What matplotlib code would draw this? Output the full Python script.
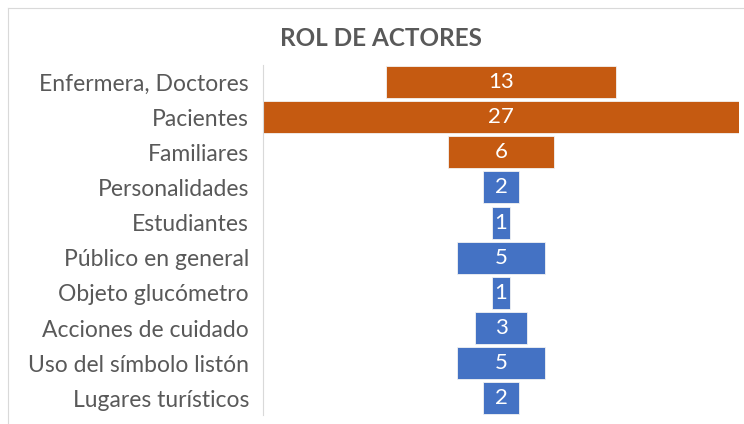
import matplotlib
matplotlib.use("Agg")
import matplotlib.pyplot as plt
from matplotlib.lines import Line2D

categories = ["Enfermera, Doctores", "Pacientes", "Familiares", "Personalidades",
              "Estudiantes", "Público en general", "Objeto glucómetro",
              "Acciones de cuidado", "Uso del símbolo listón", "Lugares turísticos"]
values = [13, 27, 6, 2, 1, 5, 1, 3, 5, 2]
groups = ["personas", "personas", "personas", "otros", "otros",
          "otros", "otros", "otros", "otros", "otros"]

colorMap = {"personas": "#C55A11", "otros": "#4472C4"}
textGray = "#595959"

plt.rcParams['font.family'] = ['Lato', 'DejaVu Sans']

fig = plt.figure(figsize=(7.44, 4.24), dpi=100)
W, H = 744, 424
ax = fig.add_axes([263 / W, 1 - 415 / H, 476 / W, 350 / H])

rows = list(range(len(categories)))
lefts = [-v / 2 for v in values]
cols = [colorMap[g] for g in groups]
ax.barh(rows, values, left=lefts, height=0.91, color=cols,
        edgecolor="#F2F2F2", linewidth=0.6)

for r, v in zip(rows, values):
    ax.text(0, r, str(v), ha="center", va="center", color="white", fontsize=16)

ax.set_xlim(-13.5, 13.5)
ax.set_ylim(9.47, -0.48)
ax.set_yticks(rows)
ax.set_yticklabels(categories, color=textGray, fontsize=16.5)
ax.tick_params(axis="y", length=0, pad=10)
ax.set_xticks([])
for side in ["top", "right", "bottom"]:
    ax.spines[side].set_visible(False)
ax.spines["left"].set_color("#D9D9D9")

fig.text(381 / W, 1 - 38 / H, "ROL DE ACTORES", ha="center", va="center",
         fontsize=17.5, fontweight="bold", color=textGray)

# marco del grafico
fig.add_artist(Line2D([8 / W, 1], [1 - 8 / H, 1 - 8 / H], color="#D9D9D9", lw=0.8))
fig.add_artist(Line2D([8 / W, 8 / W], [0, 1 - 8 / H], color="#D9D9D9", lw=0.8))

fig.savefig("out.png", dpi=100)
